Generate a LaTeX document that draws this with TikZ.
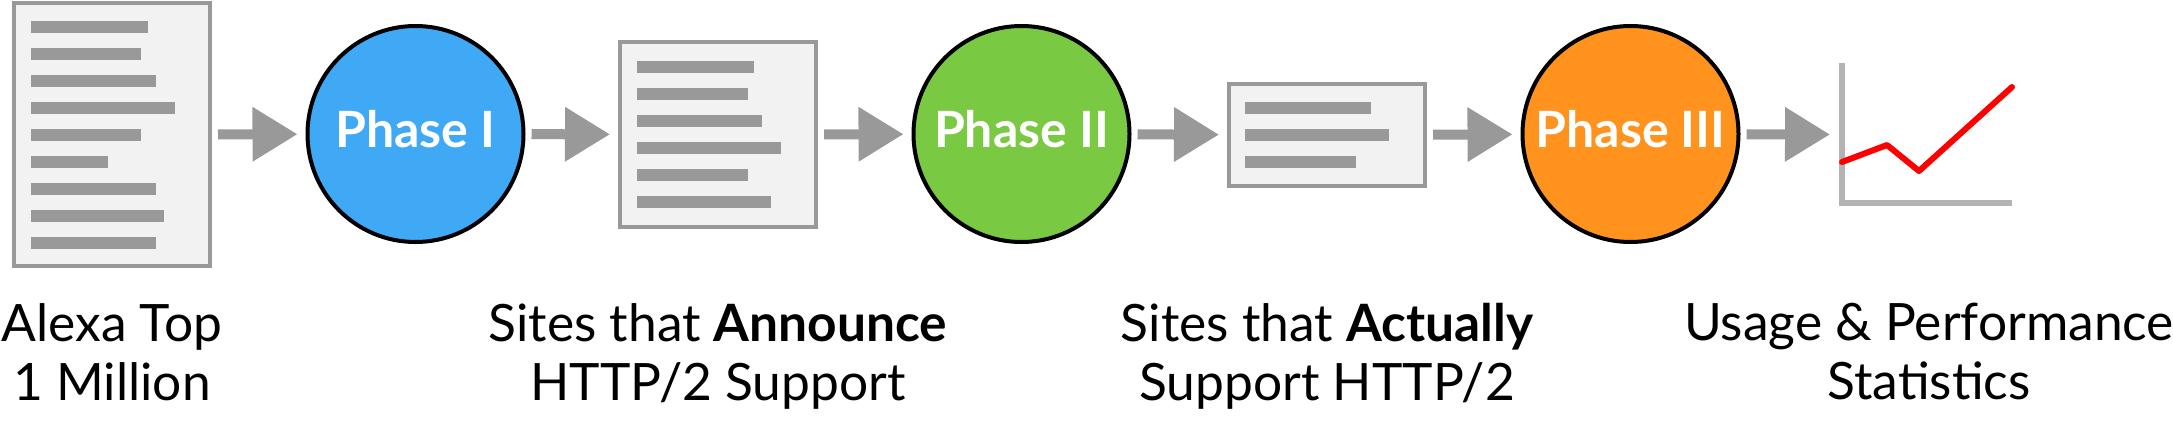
\documentclass[tikz,border=0pt]{standalone}
\usepackage{fontspec}
\setmainfont{Lato}
\usetikzlibrary{arrows.meta}
\definecolor{pblue}{HTML}{3FA9F5}
\definecolor{pgreen}{HTML}{7AC943}
\definecolor{porange}{HTML}{FF931E}
\definecolor{gray9}{HTML}{999999}
\definecolor{grayB}{HTML}{B3B3B3}
\definecolor{docfill}{HTML}{F2F2F2}
\definecolor{redline}{HTML}{FF0000}
\begin{document}
\begin{tikzpicture}[x=1pt,y=-1pt,
  docbox/.style={draw=gray9, fill=docfill, line width=4pt, minimum width=196pt, inner sep=0pt},
  phase/.style={circle, draw=black, line width=4pt, minimum size=216pt, inner sep=0pt,
    text=white, text depth=10pt, font=\bfseries\fontsize{50}{50}\selectfont},
  flow/.style={draw=gray9, line width=10pt, shorten <=6pt, shorten >=8pt,
    -{Triangle[length=45pt,width=52pt]}},
  docline/.style={fill=gray9},
  caption/.style={align=center, inner sep=0pt, anchor=north, font=\fontsize{51.5}{59}\selectfont}
]
\useasboundingbox (0,0) rectangle (2173,421);

% document icons
\node[docbox, minimum height=263pt] (doc1) at (112,134.5) {};
\node[docbox, minimum height=185pt] (doc2) at (718,134.5) {};
\node[docbox, minimum height=102pt] (doc3) at (1327,135) {};

% lines in doc1
\foreach \y/\e in {27/148,54/141,81/156,108/175,135/141,162/108,189/156,216/164,243/156}
  \fill[docline] (31,\y-6) rectangle (\e,\y+6);
% lines in doc2
\foreach \y/\e in {66.7/754,93.7/748,120.7/762,147.7/781,174.7/748,201.7/771}
  \fill[docline] (637,\y-6) rectangle (\e,\y+6);
% lines in doc3
\foreach \y/\e in {108/1371,135/1389,162/1356}
  \fill[docline] (1245,\y-6) rectangle (\e,\y+6);

% phases
\node[phase, fill=pblue] (c1) at (415.5,134) {Phase I};
\node[phase, fill=pgreen] (c2) at (1021.5,134) {Phase II};
\node[phase, fill=porange] (c3) at (1630.5,134) {Phase III};

% chart
\node[minimum width=173pt, minimum height=143pt, inner sep=0pt, outer sep=0pt] (chart) at (1925.5,134.5) {};
\draw[grayB, line width=6pt] (1842,63) -- (1842,203) -- (2012,203);
\draw[redline, line width=6pt, line cap=round, line join=round]
  (1842,162) -- (1887,145) -- (1919,171) -- (2012,87);

% arrows
\draw[flow] (doc1) -- (c1);
\draw[flow] (c1) -- (doc2);
\draw[flow] (doc2) -- (c2);
\draw[flow] (c2) -- (doc3);
\draw[flow] (doc3) -- (c3);
\draw[flow, shorten >=9pt] (c3) -- (chart.west);

% captions
\node[caption] (t1) at (112,303) {Alexa Top\\1 Million};
\node[caption] (t2) at (718,303) {Sites that \textbf{Announce}\\HTTP/2 Support};
\node[caption] (t3) at (1327,303) {Sites that \textbf{Actually}\\Support HTTP/2};
\node[caption] (t4) at (1929,303) {Usage \& Performance\\Statistics};
\end{tikzpicture}
\end{document}
